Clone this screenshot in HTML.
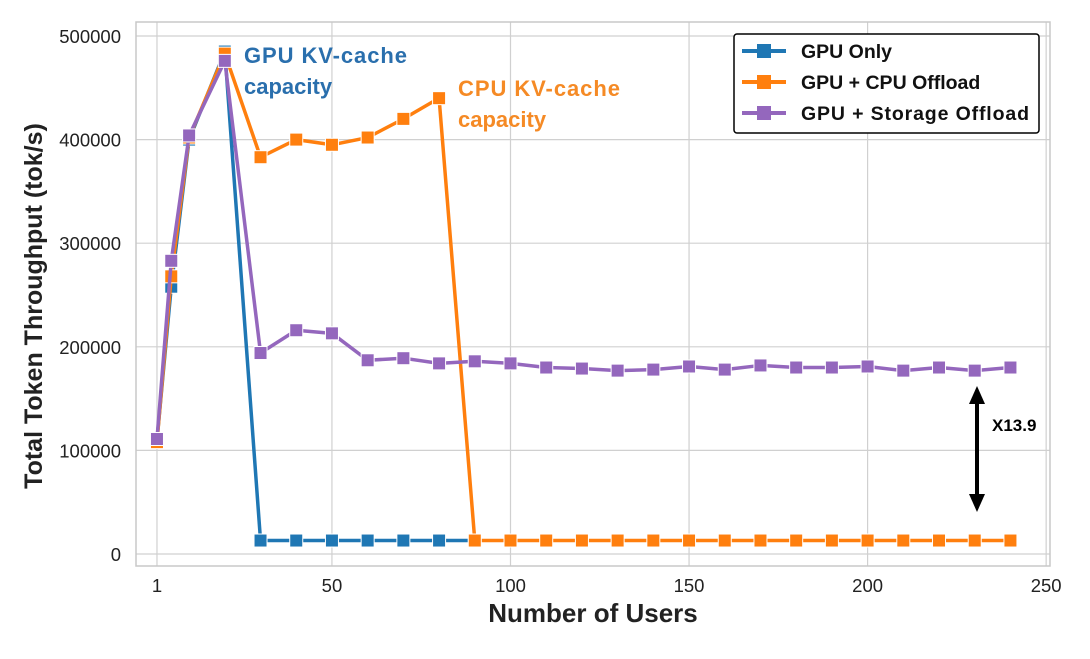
<!DOCTYPE html>
<html><head><meta charset="utf-8"><style>
body{margin:0;background:#fff;}
svg text{font-family:"Liberation Sans",Arial,sans-serif;}
</style></head><body>
<svg width="1090" height="654" xmlns="http://www.w3.org/2000/svg">
<rect width="1090" height="654" fill="#fff"/>
<g id="grid" stroke="#d0d0d0" stroke-width="1.2"></g>
<rect x="136" y="22" width="914" height="544" fill="none" stroke="#c8c8c8" stroke-width="1.5"/>
<g id="ticks" font-size="18.5" fill="#222"></g>
<text x="593" y="622" font-size="26" font-weight="bold" text-anchor="middle" fill="#222">Number of Users</text>
<text transform="translate(42,306) rotate(-90)" font-size="25" font-weight="bold" text-anchor="middle" fill="#222">Total Token Throughput (tok/s)</text>
<g id="series"></g>
<text x="244" y="63" font-size="22" font-weight="bold" fill="#2a6fad" textLength="163">GPU KV-cache</text>
<text x="244" y="94" font-size="22" font-weight="bold" fill="#2a6fad">capacity</text>
<text x="458" y="96" font-size="22" font-weight="bold" fill="#f58a25" textLength="162">CPU KV-cache</text>
<text x="458" y="127" font-size="22" font-weight="bold" fill="#f58a25">capacity</text>
<line x1="977" y1="400" x2="977" y2="498" stroke="#000" stroke-width="4"/>
<polygon points="977,386 969,404 985,404" fill="#000"/>
<polygon points="977,512 969,494 985,494" fill="#000"/>
<text x="992" y="431" font-size="17" font-weight="bold" fill="#000">X13.9</text>
<rect x="734" y="34" width="305" height="99" rx="3" fill="#fff" stroke="#000" stroke-width="1.5"/>
<g font-size="19.5" font-weight="bold" fill="#111">
<line x1="742" y1="51" x2="786" y2="51" stroke="#1f77b4" stroke-width="4"/><rect x="757" y="44" width="14" height="14" fill="#1f77b4"/>
<text x="801" y="58">GPU Only</text>
<line x1="742" y1="82" x2="786" y2="82" stroke="#ff7f0e" stroke-width="4"/><rect x="757" y="75" width="14" height="14" fill="#ff7f0e"/>
<text x="801" y="89">GPU + CPU Offload</text>
<line x1="742" y1="113" x2="786" y2="113" stroke="#9467bd" stroke-width="4"/><rect x="757" y="106" width="14" height="14" fill="#9467bd"/>
<text x="801" y="120" textLength="228">GPU + Storage Offload</text>
</g>
</svg>
<script>
const X=v=>153.4+v*3.571, Y=v=>554-v*518/500000;
const ns="http://www.w3.org/2000/svg";
function el(p,t,a,txt){const e=document.createElementNS(ns,t);for(const k in a)e.setAttribute(k,a[k]);if(txt)e.textContent=txt;p.appendChild(e);return e;}
const g=document.getElementById('grid'),tk=document.getElementById('ticks'),s=document.getElementById('series');
[1,50,100,150,200,250].forEach(v=>{el(g,'line',{x1:X(v),x2:X(v),y1:22,y2:566});el(tk,'text',{x:X(v),y:592,'text-anchor':'middle'},String(v));});
[0,100000,200000,300000,400000,500000].forEach(v=>{el(g,'line',{x1:136,x2:1050,y1:Y(v),y2:Y(v)});el(tk,'text',{x:121,y:Y(v)+7,'text-anchor':'end'},String(v));});
const xs=[1,5,10,20,30,40,50,60,70,80,90,100,110,120,130,140,150,160,170,180,190,200,210,220,230,240];
const gpu=[110000,258000,400000,485000,13000,13000,13000,13000,13000,13000,13000];
const cpu=[108000,268000,402000,483000,383000,400000,395000,402000,420000,440000].concat(Array(16).fill(13000));
const sto=[111000,283000,404000,476000,194000,216000,213000,187000,189000,184000,186000,184000,180000,179000,177000,178000,181000,178000,182000,180000,180000,181000,177000,180000,177000,180000];
function draw(d,c){const pts=d.map((v,i)=>X(xs[i])+','+Y(v)).join(' ');
el(s,'polyline',{points:pts,fill:'none',stroke:c,'stroke-width':3.5,'stroke-linejoin':'round'});
d.forEach((v,i)=>el(s,'rect',{x:X(xs[i])-6.5,y:Y(v)-6.5,width:13,height:13,fill:c,stroke:'#fff','stroke-width':1}));}
draw(gpu,'#1f77b4');draw(cpu,'#ff7f0e');draw(sto,'#9467bd');
</script>
</body></html>
